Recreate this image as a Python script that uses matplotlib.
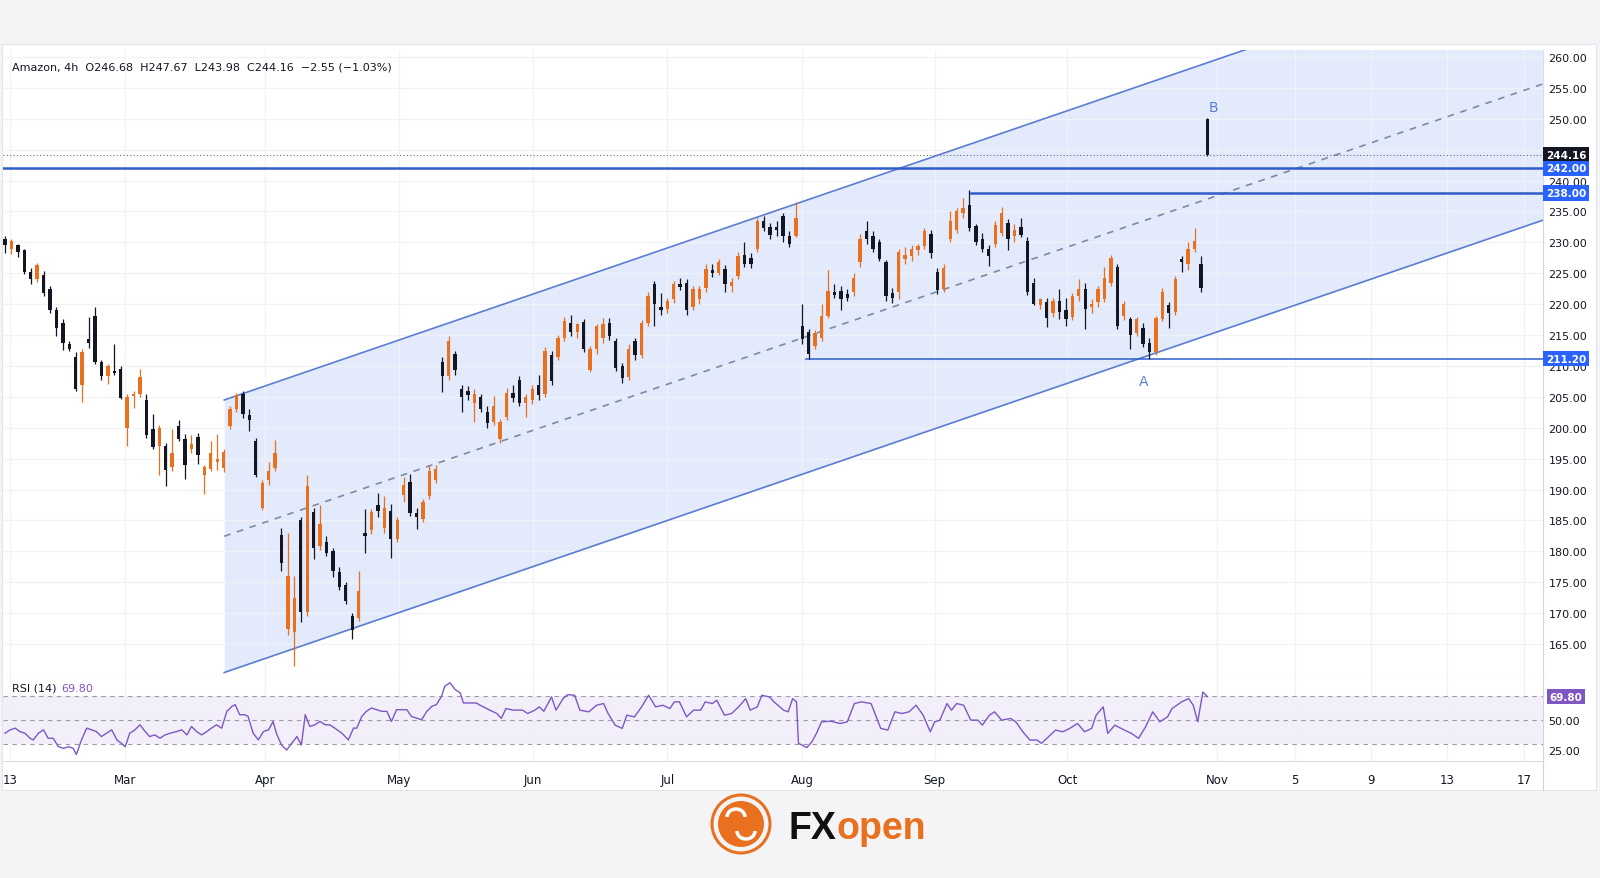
"""Amazon 4h chart with rising channel and RSI, redrawn in matplotlib."""
import numpy as np
import matplotlib
matplotlib.use("Agg")
import matplotlib.pyplot as plt
from matplotlib.patches import Rectangle, Circle, Arc

# ---- data (one candle per trading day, from mid-Feb) ----
opens = [230.5, 229.0, 229.5, 228.8, 225.2, 224.0, 224.7, 222.5, 219.0, 217.0,
         213.5, 211.4, 207.0, 214.4, 218.1, 210.6, 208.4, 209.2, 209.5, 200.0,
         205.1, 205.4, 204.5, 199.8, 197.1, 197.0, 193.6, 200.3, 198.2, 196.5,
         198.5, 192.3, 193.4, 194.5, 193.5, 200.3, 203.0, 205.5, 202.0, 197.9,
         187.0, 191.5, 193.5, 182.6, 167.5, 167.0, 185.0, 170.2, 186.3, 180.9,
         181.5, 180.0, 176.6, 174.5, 169.5, 169.3, 183.0, 183.4, 187.5, 183.8,
         186.5, 182.0, 189.2, 191.2, 186.2, 185.2, 189.0, 191.5, 210.6, 208.3,
         212.0, 206.3, 206.0, 204.0, 205.0, 202.5, 201.0, 198.2, 201.8, 205.7,
         207.8, 204.0, 204.5, 207.0, 205.5, 211.8, 211.5, 214.5, 217.0, 215.5,
         217.1, 209.3, 212.7, 214.5, 217.0, 214.0, 210.0, 208.2, 214.0, 211.8,
         217.0, 223.2, 219.5, 219.2, 220.8, 223.3, 223.5, 219.5, 220.8, 222.7,
         225.5, 225.0, 225.7, 223.0, 224.6, 228.0, 227.5, 228.9, 233.5, 232.5,
         232.5, 234.2, 231.1, 231.0, 216.5, 215.5, 213.3, 214.5, 218.1, 222.0,
         222.2, 221.6, 221.9, 226.8, 231.9, 231.0, 230.0, 226.8, 221.8, 221.9,
         227.3, 227.8, 228.7, 229.4, 231.4, 225.2, 222.5, 230.5, 232.0, 234.8,
         236.0, 232.7, 230.5, 229.0, 229.8, 231.5, 233.2, 231.0, 232.5, 230.3,
         223.5, 219.8, 220.3, 218.5, 220.5, 219.0, 218.0, 221.4, 222.5, 219.5,
         220.3, 220.8, 223.5, 226.0, 218.1, 217.6, 215.4, 216.2, 213.8, 212.2,
         217.6, 219.8, 218.8, 227.3, 226.5, 229.0, 226.5, 249.9]
highs = [231.0, 230.6, 229.8, 229.0, 225.8, 226.7, 225.3, 222.9, 219.5, 217.6,
         214.0, 212.2, 212.8, 217.9, 219.5, 211.0, 210.3, 213.6, 210.0, 205.5,
         206.0, 209.5, 205.5, 202.3, 200.4, 197.6, 199.8, 201.2, 199.0, 198.8,
         199.1, 193.9, 197.8, 199.0, 196.5, 203.6, 205.7, 206.0, 203.0, 198.3,
         191.5, 194.5, 198.0, 183.8, 183.0, 176.0, 185.5, 192.3, 187.0, 187.5,
         182.5, 180.5, 177.5, 175.0, 170.0, 176.9, 186.9, 186.8, 189.5, 189.0,
         187.6, 185.5, 192.0, 192.5, 187.0, 188.5, 194.0, 194.0, 211.5, 214.8,
         212.5, 207.0, 206.8, 206.2, 205.5, 203.5, 205.2, 201.5, 206.5, 207.0,
         208.4, 205.5, 207.0, 208.5, 213.0, 212.5, 215.0, 218.0, 218.2, 217.0,
         217.6, 213.2, 216.8, 217.8, 217.8, 214.5, 210.5, 213.5, 214.6, 217.5,
         222.0, 223.8, 221.8, 221.0, 223.8, 224.3, 224.0, 223.0, 223.0, 226.5,
         226.5, 227.3, 226.3, 224.3, 228.5, 230.0, 228.3, 234.0, 234.2, 233.2,
         233.5, 234.8, 231.8, 236.5, 220.0, 216.0, 215.8, 220.0, 225.6, 223.3,
         223.0, 222.5, 225.0, 231.4, 233.5, 231.8, 230.5, 227.2, 222.6, 229.0,
         229.2, 229.5, 229.8, 232.4, 232.0, 225.8, 226.5, 235.0, 235.5, 237.2,
         238.4, 233.0, 231.5, 229.5, 233.4, 235.7, 233.8, 233.0, 234.0, 230.8,
         224.2, 221.0, 221.0, 221.0, 222.5, 221.0, 221.8, 224.0, 223.5, 220.8,
         223.0, 226.0, 228.0, 226.5, 220.5, 218.0, 218.0, 217.0, 214.5, 218.1,
         222.7, 220.3, 224.5, 227.8, 230.0, 232.4, 227.8, 250.2]
lows = [228.3, 228.2, 227.6, 224.9, 223.3, 223.6, 221.4, 218.5, 214.8, 212.6,
        212.4, 205.9, 204.1, 212.9, 210.3, 207.8, 207.1, 208.6, 204.6, 197.1,
        203.2, 205.0, 198.3, 196.5, 192.3, 190.6, 193.0, 197.9, 191.7, 195.9,
        194.2, 189.3, 193.0, 193.2, 192.8, 199.8, 202.5, 201.6, 199.5, 192.0,
        186.7, 190.8, 193.0, 176.9, 166.5, 161.5, 168.6, 169.5, 178.8, 180.3,
        179.3, 175.8, 173.8, 171.5, 165.9, 168.8, 179.8, 182.8, 185.5, 183.0,
        178.9, 181.5, 188.0, 185.8, 183.6, 184.8, 188.5, 191.0, 205.8, 207.8,
        208.5, 202.5, 204.5, 201.0, 202.5, 200.0, 200.5, 197.6, 201.3, 204.2,
        203.6, 201.8, 203.8, 204.5, 205.0, 207.0, 211.0, 214.0, 214.8, 214.5,
        212.3, 209.0, 212.0, 213.8, 214.2, 209.2, 207.3, 207.8, 211.0, 211.3,
        216.5, 216.5, 218.3, 218.5, 220.2, 222.3, 218.3, 219.0, 220.0, 222.0,
        224.4, 224.8, 221.9, 222.0, 224.0, 226.0, 225.8, 228.4, 231.8, 230.5,
        231.0, 230.0, 229.2, 230.8, 213.5, 211.2, 212.8, 214.0, 217.8, 221.0,
        219.0, 220.5, 221.3, 226.0, 229.8, 228.5, 227.0, 220.5, 220.2, 220.8,
        226.5, 227.0, 228.0, 229.0, 227.5, 221.6, 222.0, 230.0, 231.5, 234.0,
        231.8, 229.6, 228.5, 226.2, 229.3, 231.0, 228.7, 230.0, 230.8, 221.5,
        219.8, 219.3, 216.3, 218.0, 217.6, 216.5, 217.5, 220.5, 216.0, 218.5,
        219.5, 220.3, 223.0, 216.0, 217.5, 212.7, 214.8, 213.0, 211.1, 211.8,
        217.2, 216.2, 218.3, 225.2, 225.5, 228.5, 222.0, 243.98]
closes = [229.5, 230.2, 228.5, 225.2, 224.0, 226.3, 221.8, 219.0, 216.2, 213.8,
          212.8, 206.3, 212.2, 213.8, 210.6, 208.4, 210.0, 208.9, 204.9, 205.0,
          205.4, 208.2, 198.8, 196.9, 200.0, 193.1, 196.0, 198.2, 193.9, 197.4,
          195.6, 193.7, 196.0, 195.0, 196.1, 203.0, 205.3, 202.3, 201.3, 192.3,
          191.0, 193.0, 196.0, 178.2, 176.0, 172.5, 170.2, 190.6, 180.5, 184.5,
          179.8, 176.8, 174.2, 172.0, 167.3, 173.6, 182.5, 186.3, 186.5, 187.0,
          182.0, 185.0, 190.8, 186.2, 185.5, 188.0, 193.0, 193.3, 208.3, 214.0,
          209.3, 205.0, 205.3, 205.5, 203.0, 200.8, 203.5, 200.9, 205.7, 204.8,
          204.0, 205.0, 206.3, 205.3, 212.5, 207.6, 214.5, 217.3, 215.5, 216.8,
          212.8, 212.7, 216.5, 216.8, 214.8, 209.6, 208.0, 212.8, 211.7, 217.0,
          221.4, 220.0, 219.0, 220.5, 223.3, 222.8, 219.0, 222.5, 222.5, 225.7,
          225.0, 226.8, 223.3, 223.6, 227.8, 226.5, 226.5, 233.5, 232.4, 231.2,
          232.0, 231.0, 229.8, 234.0, 214.4, 212.0, 215.4, 218.1, 222.2, 221.5,
          220.8, 221.0, 224.3, 230.5, 230.5, 229.0, 227.3, 221.3, 221.0, 228.4,
          228.0, 228.9, 229.4, 231.9, 228.3, 222.3, 225.8, 233.5, 235.0, 235.5,
          232.3, 230.0, 229.0, 227.8, 232.8, 234.8, 230.6, 232.0, 231.2, 222.0,
          220.0, 220.8, 217.8, 220.5, 218.7, 217.6, 221.4, 222.5, 219.2, 220.0,
          222.5, 224.3, 227.5, 216.5, 220.0, 215.0, 217.6, 213.6, 212.2, 217.8,
          221.9, 218.5, 224.1, 226.8, 228.9, 230.3, 222.7, 244.16]

rsi_day = [0.0, 0.8, 1.6, 2.3, 3.1, 3.9, 4.4, 5.2, 6.0, 6.7, 7.5, 8.3, 9.1, 9.9,
           10.6, 11.1, 11.9, 12.7, 13.5, 14.2, 15.0, 15.8, 16.6, 17.4, 18.1,
           18.7, 19.4, 20.2, 21.0, 21.8, 22.5, 23.3, 24.1, 24.9, 25.7, 26.7,
           27.5, 28.3, 29.0, 29.8, 30.6, 31.4, 32.1, 32.9, 33.7, 34.5, 35.3,
           35.8, 36.5, 37.3, 37.8, 38.6, 39.4, 40.2, 41.0, 41.7, 42.2, 43.0,
           43.8, 44.6, 45.4, 46.1, 46.7, 47.4, 48.2, 49.0, 49.8, 50.5, 51.3,
           52.4, 53.4, 54.2, 54.7, 55.5, 56.2, 57.0, 57.8, 58.6, 59.4, 60.1,
           60.9, 61.7, 62.5, 63.2, 64.0, 64.8, 65.6, 66.4, 67.1, 67.9, 68.4,
           69.2, 70.0, 70.8, 71.3, 72.3, 73.3, 73.9, 75.4, 76.5, 77.2, 77.9,
           79.1, 80.5, 81.3, 82.4, 83.1, 83.8, 85.0, 85.7, 86.8, 87.5, 88.6,
           89.4, 90.8, 92.0, 93.1, 93.8, 94.9, 96.0, 96.7, 97.9, 99.0, 100.1,
           101.2, 102.3, 103.4, 104.1, 104.9, 106.0, 107.1, 108.2, 108.9, 110.0,
           110.7, 111.9, 113.0, 114.1, 115.2, 115.9, 117.0, 117.7, 118.9, 119.6,
           121.1, 121.8, 122.5, 123.1, 123.4, 124.7, 125.5, 126.2, 127.0, 128.4,
           129.9, 131.0, 132.1, 133.2, 134.7, 135.4, 136.2, 137.3, 138.4, 139.5,
           140.6, 141.7, 142.8, 143.9, 144.6, 145.4, 146.5, 147.2, 148.0, 149.1,
           150.2, 151.3, 152.0, 153.1, 153.9, 155.0, 156.4, 157.2, 158.3, 159.4,
           160.5, 161.2, 162.3, 163.4, 164.5, 165.6, 166.8, 167.9, 169.0, 169.7,
           170.8, 171.5, 172.6, 174.1, 175.2, 176.3, 177.4, 178.5, 179.6, 180.8,
           181.5, 183.0, 184.1, 184.8, 185.5, 186.3, 187.0]
rsi_val = [39.4, 42.2, 43.6, 40.8, 39.4, 35.2, 33.8, 39.4, 42.2, 35.2, 35.2, 28.2,
           26.8, 28.2, 26.8, 21.7, 33.8, 43.6, 42.2, 40.8, 36.6, 39.4, 42.2, 33.8,
           31.0, 28.2, 39.4, 42.2, 46.4, 40.8, 36.6, 38.0, 35.2, 38.0, 39.4, 40.8,
           42.2, 38.0, 45.0, 40.8, 38.0, 40.8, 43.6, 46.4, 43.6, 57.6, 61.8, 63.2,
           54.8, 54.8, 53.4, 39.4, 33.8, 40.8, 42.2, 49.2, 39.4, 29.6, 25.4, 31.0,
           36.6, 29.6, 54.8, 45.0, 46.4, 49.2, 46.4, 46.4, 43.6, 39.4, 33.8, 43.6,
           43.6, 53.4, 57.6, 60.4, 59.0, 57.6, 57.6, 49.2, 59.0, 59.0, 59.0, 53.4,
           52.0, 50.6, 57.6, 61.8, 63.2, 70.2, 78.6, 81.4, 75.8, 73.0, 64.6, 64.6,
           64.6, 62.7, 58.6, 55.8, 51.7, 59.9, 58.6, 58.6, 55.8, 58.6, 61.3, 57.7,
           69.6, 58.6, 68.2, 71.5, 71.0, 58.6, 57.2, 62.7, 64.1, 55.8, 46.1, 43.4,
           54.4, 53.0, 61.3, 71.0, 61.3, 62.7, 59.9, 65.5, 65.5, 53.0, 58.6, 58.6,
           65.5, 64.1, 66.8, 54.4, 55.8, 61.3, 68.2, 58.6, 61.3, 71.0, 69.6, 65.5,
           58.6, 57.2, 68.2, 65.5, 31.0, 27.4, 32.3, 39.2, 48.9, 49.4, 47.5, 48.9,
           64.1, 65.5, 64.1, 54.4, 43.4, 42.0, 57.2, 55.8, 57.2, 62.7, 54.4, 40.6,
           48.9, 50.3, 64.1, 58.6, 64.1, 62.7, 50.3, 50.3, 46.1, 54.4, 57.2, 50.3,
           51.7, 48.9, 40.6, 33.7, 33.7, 31.0, 36.5, 42.0, 40.6, 43.4, 47.5, 40.6,
           43.4, 54.4, 61.3, 39.2, 46.1, 42.0, 39.2, 35.1, 44.8, 57.2, 48.9, 53.0,
           59.9, 65.5, 68.2, 62.7, 48.9, 73.7, 69.8]

price_ticks = list(range(165, 261, 5))
rsi_ticks = [25, 50, 75]
date_pos = [0.8, 18.6, 40.4, 61.3, 82.1, 103.0, 124.0, 144.6, 165.2, 188.5,
            200.6, 212.4, 224.3, 236.3]
date_lbl = ["13", "Mar", "Apr", "May", "Jun", "Jul", "Aug", "Sep", "Oct", "Nov",
            "5", "9", "13", "17"]

chan_x = [34.1, 239.2]
chan_upper = [204.5, 277.7]
chan_lower = [160.4, 233.6]

last_price = 244.16
level_top = 242.0          # full-width resistance
level_mid = 238.0          # from the September high
level_mid_start = 150.3
level_low = 211.2          # from the August low
level_low_start = 124.6
rsi_last = 69.80

ORANGE = "#e8701e"
BLACK = "#141722"
BLUE = "#5a7dd3"
LEVEL = "#2e5cc8"
TAG = "#2962ff"
PURPLE = "#7e57c2"
TXT = "#131722"
GRID = "#f0f2f7"

W, H = 1600, 879
XMIN, XMAX = -0.31, 239.2


def fx(px):
    return px / W


def fy(py):
    return 1 - py / H


fig = plt.figure(figsize=(16, 8.79), dpi=100, facecolor="#f4f4f6")

# page background + logo drawn in pixel units
bg = fig.add_axes([0, 0, 1, 1], zorder=-5)
bg.set_xlim(0, W); bg.set_ylim(H, 0); bg.axis("off")
bg.add_patch(Rectangle((2, 45), 1594, 746, fc="white", ec="#e3e5ea", lw=0.8))
bg.plot([1543, 1543], [51, 791], color="#d1d4dc", lw=0.8)
bg.add_patch(Circle((741, 825), 29, fc="none", ec=ORANGE, lw=2.2))
bg.add_patch(Circle((741, 825), 23, fc=ORANGE, ec="none"))
bg.add_patch(Arc((736, 818), 18, 16, theta1=180, theta2=360, color="white", lw=2.5))
bg.add_patch(Arc((746, 832), 18, 16, theta1=0, theta2=180, color="white", lw=2.5))
bg.text(836, 839, "FX", ha="right", va="baseline", fontsize=27,
        fontweight="bold", family="Liberation Sans", color="#111111")
bg.text(836, 839, "open", ha="left", va="baseline", fontsize=27,
        fontweight="bold", family="Liberation Sans", color=ORANGE)

# ---- price panel ----
ax = fig.add_axes([fx(3), fy(675.5), fx(1543 - 3), (675.5 - 51) / H])
ax.set_xlim(XMIN, XMAX)
ax.set_ylim(160.08, 261.13)

ax.fill_between(chan_x, chan_lower, chan_upper, color="#e3eafb", zorder=0, lw=0)
ax.plot(chan_x, chan_upper, color=BLUE, lw=1.2, zorder=2)
ax.plot(chan_x, chan_lower, color=BLUE, lw=1.2, zorder=2)
ax.plot(chan_x, [(a + b) / 2 for a, b in zip(chan_upper, chan_lower)],
        color="#7b8aa6", lw=1.2, ls=(0, (4, 4)), zorder=2)

ax.axhline(last_price, color="#6a6d78", lw=0.8, ls=(0, (1, 2)), zorder=2)
ax.axhline(level_top, color=LEVEL, lw=1.8, zorder=2)
ax.plot([level_mid_start, XMAX], [level_mid, level_mid], color=LEVEL, lw=1.8, zorder=2)
ax.plot([level_low_start, XMAX], [level_low, level_low], color=LEVEL, lw=1.1, zorder=2)

o = np.array(opens); h = np.array(highs); l = np.array(lows); c = np.array(closes)
x = np.arange(len(o))
col = np.where(c >= o, ORANGE, BLACK)
ax.vlines(x, l, h, colors=col, lw=0.9, zorder=3)
ax.bar(x, np.maximum(np.abs(c - o), 0.15), bottom=np.minimum(o, c), width=0.52,
       color=col, lw=0, zorder=4)

ax.text(177.1, 207.5, "A", color=BLUE, fontsize=10, ha="center", va="center")
ax.text(188.0, 251.9, "B", color=BLUE, fontsize=10, ha="center", va="center")

# 245.00 sits under the last-price tag, so its label is left empty
ax.set_yticks(price_ticks)
ax.set_yticklabels(["" if t == 245 else f"{t:.2f}" for t in price_ticks])
ax.yaxis.tick_right()
ax.set_xticks(date_pos)
ax.tick_params(axis="y", length=0, pad=4, labelsize=8, labelcolor=TXT)
ax.tick_params(axis="x", length=0, labelbottom=False)
ax.grid(True, color=GRID, lw=0.9)
ax.set_axisbelow(True)
for s in ("top", "left", "right"):
    ax.spines[s].set_visible(False)
ax.spines["bottom"].set_color("#d8dbe3")

for val, fc in [(last_price, BLACK), (level_top, TAG), (level_mid, TAG), (level_low, TAG)]:
    ax.annotate(f"{val:.2f}", xy=(1.0, val), xycoords=("axes fraction", "data"),
                xytext=(23, 0), textcoords="offset pixels", ha="center", va="center",
                fontsize=7.5, fontweight="bold", color="white", annotation_clip=False,
                bbox=dict(boxstyle="square,pad=0.25", fc=fc, ec="none"))

# ---- RSI panel ----
axr = fig.add_axes([fx(3), fy(762), fx(1543 - 3), (762 - 675.5) / H])
axr.set_xlim(XMIN, XMAX)
axr.set_ylim(16.25, 88.3)
axr.fill_between([XMIN, XMAX], 30, 70, color="#f2eefa", lw=0, zorder=0)
for lv in (70, 50, 30):
    axr.axhline(lv, color="#9a9ca6", lw=0.8, ls=(0, (4, 4)), zorder=1)
axr.plot(rsi_day, rsi_val, color=PURPLE, lw=1.0, zorder=3)
axr.set_yticks(rsi_ticks)
axr.set_yticklabels(["" if t == 75 else f"{t:.2f}" for t in rsi_ticks])
axr.yaxis.tick_right()
axr.set_xticks(date_pos)
axr.set_xticklabels(date_lbl)
axr.tick_params(axis="y", length=0, pad=4, labelsize=8, labelcolor=TXT)
axr.tick_params(axis="x", length=0, pad=9, labelsize=8.5, labelcolor=TXT)
axr.grid(True, axis="x", color=GRID, lw=0.9)
axr.set_axisbelow(True)
for s in ("top", "left", "right"):
    axr.spines[s].set_visible(False)
axr.spines["bottom"].set_color("#d8dbe3")
axr.annotate(f"{rsi_last:.2f}", xy=(1.0, rsi_last), xycoords=("axes fraction", "data"),
             xytext=(23, 0), textcoords="offset pixels", ha="center", va="center",
             fontsize=7.5, fontweight="bold", color="white", annotation_clip=False,
             bbox=dict(boxstyle="square,pad=0.25", fc=PURPLE, ec="none"))

# ---- legend texts ----
fig.text(fx(12), fy(67), "Amazon, 4h  O246.68  H247.67  L243.98  C244.16  \u22122.55 (\u22121.03%)",
         va="center", fontsize=8, color=TXT)
fig.text(fx(12), fy(689), "RSI (14)", va="center", fontsize=8, color=TXT)
fig.text(fx(61), fy(689), f"{rsi_last:.2f}", va="center", fontsize=8, color=PURPLE)

fig.savefig("out.png", dpi=100, facecolor=fig.get_facecolor())
